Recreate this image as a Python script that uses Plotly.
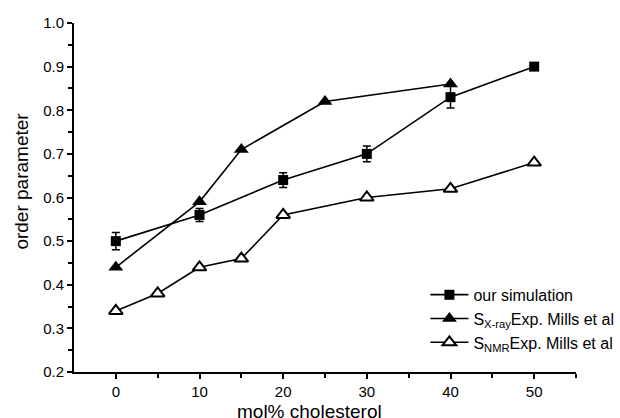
import plotly.graph_objects as go

sim_x = [0, 10, 20, 30, 40, 50]
sim_y = [0.50, 0.56, 0.64, 0.70, 0.83, 0.90]
sim_err = [0.020, 0.015, 0.017, 0.018, 0.025, 0.006]

xray_x = [0, 10, 15, 25, 40]
xray_y = [0.44, 0.59, 0.71, 0.82, 0.86]

nmr_x = [0, 5, 10, 15, 20, 30, 40, 50]
nmr_y = [0.34, 0.38, 0.44, 0.46, 0.56, 0.60, 0.62, 0.68]

names = ["our simulation", "S<sub>X-ray</sub>Exp. Mills et al", "S<sub>NMR</sub>Exp. Mills et al"]
x_title = "mol% cholesterol"
y_title = "order parameter"

FONT = "Liberation Sans, Arial, sans-serif"

fig = go.Figure()
fig.add_trace(go.Scatter(
    x=sim_x, y=sim_y, name=names[0], mode="lines+markers",
    line=dict(color="black", width=1.6),
    marker=dict(symbol="square", size=10, color="black"),
    error_y=dict(type="data", array=sim_err, color="black", thickness=1.5, width=4),
))
fig.add_trace(go.Scatter(
    x=xray_x, y=xray_y, name=names[1], mode="lines+markers",
    line=dict(color="black", width=1.6),
    marker=dict(symbol="triangle-up", size=13, color="black"),
))
fig.add_trace(go.Scatter(
    x=nmr_x, y=nmr_y, name=names[2], mode="lines+markers",
    line=dict(color="black", width=1.6),
    marker=dict(symbol="triangle-up", size=12, color="white",
                line=dict(color="black", width=2)),
))

axis_common = dict(
    showline=True, linecolor="black", linewidth=2,
    ticks="outside", tickcolor="black", tickwidth=2, ticklen=5,
    showgrid=False, zeroline=False, mirror=False,
    tickfont=dict(family=FONT, size=15, color="black"),
)

fig.update_layout(
    width=620, height=418,
    margin=dict(l=74, r=44, t=23, b=46, autoexpand=False),
    paper_bgcolor="white", plot_bgcolor="white",
    font=dict(family=FONT, color="black"),
    xaxis=dict(range=[-5, 55], tickvals=[0, 10, 20, 30, 40, 50],
               minor=dict(tickvals=[5, 15, 25, 35, 45, 55], ticks="outside", ticklen=4,
                          tickwidth=1.5, tickcolor="black"),
               **axis_common),
    yaxis=dict(range=[0.2, 1.0], tickvals=[0.2, 0.3, 0.4, 0.5, 0.6, 0.7, 0.8, 0.9, 1.0],
               ticktext=["0.2", "0.3", "0.4", "0.5", "0.6", "0.7", "0.8", "0.9", "1.0"],
               minor=dict(tickvals=[0.25, 0.35, 0.45, 0.55, 0.65, 0.75, 0.85, 0.95],
                          ticks="outside", ticklen=4, tickwidth=1.5, tickcolor="black"),
               **axis_common),
    legend=dict(x=0.70, y=0.27, xanchor="left", yanchor="top",
                bgcolor="rgba(0,0,0,0)", font=dict(size=16),
                itemwidth=38, tracegroupgap=0),
    showlegend=True,
    annotations=[
        dict(text=x_title, xref="paper", yref="paper", x=0.47, y=-0.113,
             xanchor="center", yanchor="middle", showarrow=False,
             font=dict(family=FONT, size=19, color="black")),
        dict(text=y_title, xref="paper", yref="paper", x=-0.1046, y=0.547,
             xanchor="center", yanchor="middle", textangle=-90, showarrow=False,
             font=dict(family=FONT, size=19, color="black")),
    ],
)

fig.write_html("out.html", config={"displayModeBar": False},
               post_script="document.body.style.margin='0';document.body.style.overflow='hidden';")
